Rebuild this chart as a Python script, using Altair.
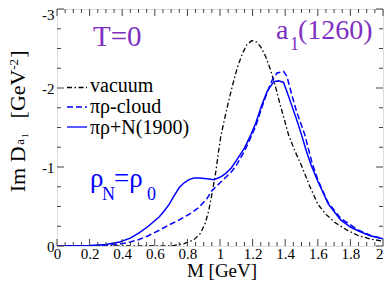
import altair as alt
import pandas as pd
import numpy as np

# ---------------- data ----------------
m_vac = [0.0, 0.6, 0.7, 0.78, 0.84, 0.88, 0.91, 0.93, 0.95, 0.975, 0.99, 1.006, 1.04,
         1.075, 1.105, 1.136, 1.165, 1.196, 1.225, 1.25, 1.28, 1.31, 1.34, 1.37, 1.395,
         1.42, 1.46, 1.5, 1.55, 1.6, 1.65, 1.71, 1.78, 1.85, 1.92, 2.0]
v_vac = [0.0, 0.0, 0.0, 0.03, 0.08, 0.16, 0.29, 0.44, 0.65, 0.95, 1.18, 1.40, 1.72,
         2.02, 2.25, 2.43, 2.55, 2.60, 2.58, 2.52, 2.40, 2.23, 2.02, 1.78, 1.60,
         1.41, 1.20, 1.02, 0.76, 0.53, 0.40, 0.29, 0.20, 0.13, 0.09, 0.06]

m_cloud = [0.0, 0.2, 0.3, 0.4, 0.45, 0.5, 0.56, 0.628, 0.69, 0.75, 0.81, 0.872, 0.92,
           0.95, 1.0, 1.036, 1.07, 1.10, 1.15, 1.19, 1.22, 1.256, 1.29, 1.32, 1.35,
           1.39, 1.41, 1.44, 1.47, 1.52, 1.565, 1.6, 1.66, 1.74, 1.85, 1.93, 2.0]
v_cloud = [0.0, 0.0, 0.01, 0.03, 0.05, 0.08, 0.13, 0.20, 0.27, 0.33, 0.40, 0.49, 0.60,
           0.70, 0.80, 0.87, 0.94, 1.02, 1.20, 1.38, 1.52, 1.75, 1.95, 2.10, 2.19,
           2.21, 2.15, 1.92, 1.70, 1.41, 1.05, 0.84, 0.56, 0.35, 0.20, 0.13, 0.09]

m_n1900 = [0.0, 0.2, 0.3, 0.384, 0.45, 0.506, 0.56, 0.628, 0.66, 0.689, 0.72, 0.75,
           0.78, 0.81, 0.84, 0.872, 0.92, 0.963, 1.0, 1.036, 1.07, 1.10, 1.15, 1.19,
           1.22, 1.256, 1.29, 1.33, 1.36, 1.39, 1.42, 1.44, 1.47, 1.5, 1.53, 1.56,
           1.6, 1.665, 1.74, 1.8, 1.85, 1.92, 2.0]
v_n1900 = [0.0, 0.005, 0.02, 0.05, 0.10, 0.17, 0.25, 0.37, 0.45, 0.53, 0.64, 0.74,
           0.80, 0.84, 0.86, 0.86, 0.85, 0.84, 0.87, 0.92, 0.99, 1.08, 1.24, 1.41,
           1.56, 1.78, 1.96, 2.08, 2.09, 2.07, 1.90, 1.78, 1.60, 1.41, 1.20, 1.02,
           0.82, 0.53, 0.33, 0.24, 0.19, 0.13, 0.09]

legend_labels = ["vacuum", "\u03c0\u03c1-cloud", "\u03c0\u03c1+N(1900)"]
x_tick_labels = [0, 0.2, 0.4, 0.6, 0.8, 1, 1.2, 1.4, 1.6, 1.8, 2]
y_tick_labels = [-3, -2, -1, 0]

# ---------------- layout ----------------
W, H = 326, 237
SERIF = "Liberation Serif, Times New Roman, Times, serif"
BLUE = "#0000ff"
PURPLE = "#8030c0"

x_scale = alt.Scale(domain=[0, 2], nice=False, zero=False)
y_scale = alt.Scale(domain=[-3, 0], reverse=True, nice=False, zero=False)

x_axis = alt.Axis(values=x_tick_labels, labelExpr="format(datum.value, '~g')",
                  ticks=False, domain=False, grid=False, title=None,
                  labelFont=SERIF, labelFontSize=15, labelColor="black",
                  labelPadding=0, labelFlush=False, labelOverlap=False,
                  labelAlign={"condition": {"test": "datum.value == 2", "value": "right"},
                              "value": "center"})
y_axis = alt.Axis(values=y_tick_labels,
                  labelExpr="datum.value == 0 ? '0' : '-' + abs(datum.value)",
                  ticks=False, domain=False, grid=False, title=None,
                  labelFont=SERIF, labelFontSize=15, labelColor="black",
                  labelPadding=3, labelFlush=False, labelOverlap=False,
                  labelOffset={"condition": {"test": "datum.value == -3", "value": 5},
                               "value": 0})


def X():
    return alt.X("M:Q", scale=x_scale, axis=x_axis)


def Y():
    return alt.Y("V:Q", scale=y_scale, axis=y_axis)


def curve(m, v, color, dash, width):
    df = pd.DataFrame({"M": m, "V": [-a for a in v]})
    kw = dict(color=color, strokeWidth=width, clip=True)
    if dash:
        kw["strokeDash"] = dash
    return alt.Chart(df).mark_line(**kw).encode(x=X(), y=Y(), order="M:Q")


vac = curve(m_vac, v_vac, "black", [5, 2.5, 1.5, 2.5], 1.3)
cloud = curve(m_cloud, v_cloud, BLUE, [6, 3], 1.5)
n1900 = curve(m_n1900, v_n1900, BLUE, None, 1.5)

# ---------------- inward ticks on all four sides ----------------
xt_major = np.round(np.arange(0, 2.001, 0.2), 3)
xt_all = np.round(np.arange(0, 2.001, 0.05), 3)
xt_minor = [t for t in xt_all if min(abs(t - xt_major)) > 1e-6]
yt_major = np.array([-3.0, -2.0, -1.0, 0.0])
yt_all = np.round(np.arange(-3, 0.001, 0.25), 3)
yt_minor = [t for t in yt_all if min(abs(t - yt_major)) > 1e-6]

TC = "#444"
tick_layers = []
for vals, ln in ((list(xt_major), 7), (xt_minor, 4)):
    d = pd.DataFrame({"M": vals})
    tick_layers.append(alt.Chart(d).mark_rule(color=TC, strokeWidth=1).encode(
        x=X(), y=alt.value(H), y2=alt.value(H - ln)))
    tick_layers.append(alt.Chart(d).mark_rule(color=TC, strokeWidth=1).encode(
        x=X(), y=alt.value(0), y2=alt.value(ln)))
for vals, ln in ((list(yt_major), 7), (yt_minor, 4)):
    d = pd.DataFrame({"V": vals})
    tick_layers.append(alt.Chart(d).mark_rule(color=TC, strokeWidth=1).encode(
        y=Y(), x=alt.value(0), x2=alt.value(ln)))
    tick_layers.append(alt.Chart(d).mark_rule(color=TC, strokeWidth=1).encode(
        y=Y(), x=alt.value(W), x2=alt.value(W - ln)))

# ---------------- annotations ----------------
one = pd.DataFrame({"a": [0]})


def txt(s, x, y, size, color="black", angle=0, align="left", baseline="alphabetic"):
    kw = dict(font=SERIF, fontSize=size, color=color, align=align, baseline=baseline)
    if angle:
        kw["angle"] = angle
    return alt.Chart(one).mark_text(**kw).encode(
        x=alt.value(x), y=alt.value(y), text=alt.value(s))


def legline(y, color, dash):
    kw = dict(color=color, strokeWidth=1.3)
    if dash:
        kw["strokeDash"] = dash
    return alt.Chart(one).mark_rule(**kw).encode(
        x=alt.value(10), x2=alt.value(30), y=alt.value(y))


ann = [
    legline(78.5, "black", [5, 2.5, 1.5, 2.5]),
    legline(98, BLUE, [6, 3]),
    legline(118, BLUE, None),
    txt(legend_labels[0], 33, 82.5, 20),
    txt(legend_labels[1], 33, 103.6, 20),
    txt(legend_labels[2], 33, 124.7, 20),
    txt("T=0", 36, 36.5, 29, PURPLE),
    txt("a", 219, 29.7, 28, PURPLE),
    txt("1", 233, 41.3, 18, PURPLE),
    txt("(1260)", 241, 29.7, 28, PURPLE),
    txt("\u03c1", 33, 177.5, 27, BLUE),
    txt("N", 45, 191, 18, BLUE),
    txt("=\u03c1", 57, 177.5, 27, BLUE),
    txt("0", 90, 191, 18, BLUE),
    # axis titles
    txt("M [GeV]", W / 2 + 2, H + 31, 19, align="center"),
    txt("Im D", -32, 183.3, 22, angle=270),
    txt("a", -33, 135.7, 13, angle=270),
    txt("1", -29, 128.7, 9, angle=270),
    txt("[GeV", -32, 109.4, 22, angle=270),
    txt("-2", -39, 60.8, 13, angle=270),
    txt("]", -32, 48.8, 22, angle=270),
]

chart = alt.layer(vac, cloud, n1900, *tick_layers, *ann).properties(
    width=W, height=H,
    autosize=alt.AutoSizeParams(type="none"),
    padding={"left": 49, "top": 1, "right": 1, "bottom": 35},
).configure_view(stroke="#333", strokeWidth=1.5).configure(background="white")

chart.save("out.html", embed_options={"renderer": "svg", "actions": False})
